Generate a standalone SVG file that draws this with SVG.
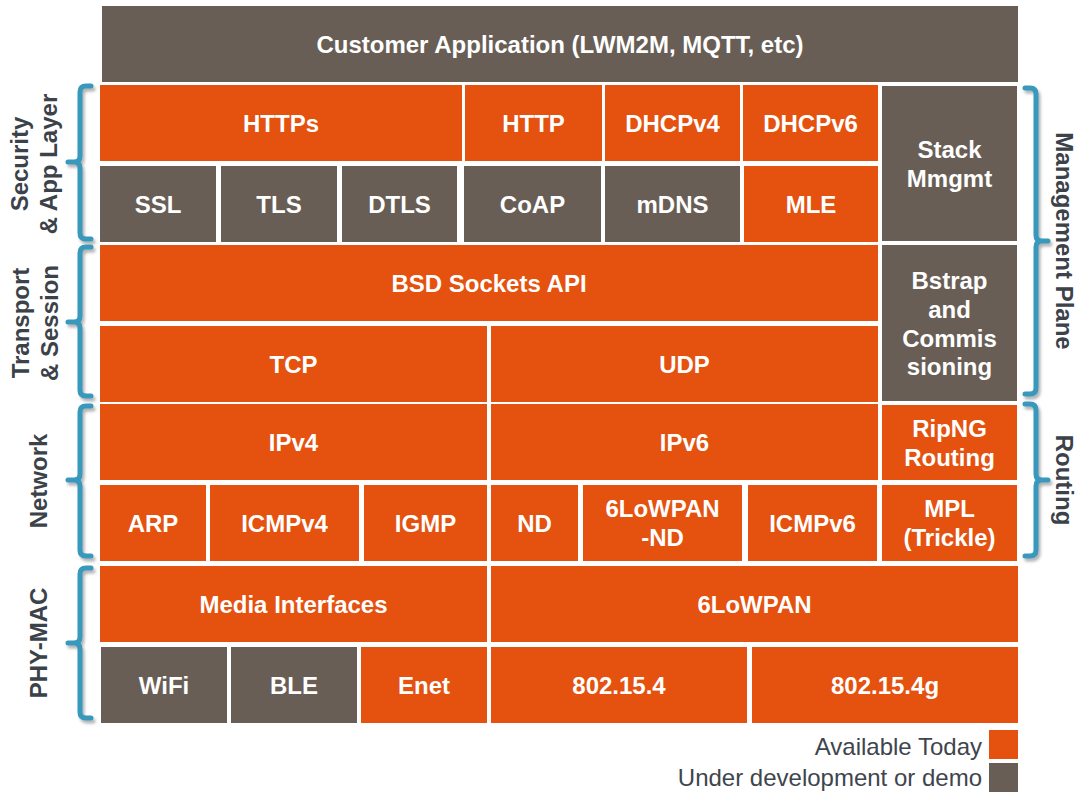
<svg xmlns="http://www.w3.org/2000/svg" width="1078" height="792" viewBox="0 0 1078 792">
<defs>
<style>
.o{fill:#E5510E}
.g{fill:#685E55}
.t{font-family:"Liberation Sans",Arial,sans-serif;font-weight:bold;font-size:24px;fill:#FFFFFF;text-anchor:middle}
.s{font-family:"Liberation Sans",Arial,sans-serif;font-weight:bold;font-size:24px;fill:#3C4249;text-anchor:middle}
.l{font-family:"Liberation Sans",Arial,sans-serif;font-size:24px;fill:#3E454D;text-anchor:end}
.br{fill:none;stroke:#3799BD;stroke-width:5;stroke-linecap:round;stroke-linejoin:round}
</style>
<filter id="sh" x="-50%" y="-10%" width="200%" height="120%">
<feDropShadow dx="2" dy="3" stdDeviation="1.5" flood-color="#555555" flood-opacity="0.45"/>
</filter>
</defs>
<rect width="1078" height="792" fill="#FFFFFF"/>

<g id="customer"><rect class="g" x="102" y="6" width="916" height="76"/><text class="t" x="560" y="53">Customer Application (LWM2M, MQTT, etc)</text></g>

<g id="https"><rect class="o" x="100" y="85" width="362" height="76"/><text class="t" x="281" y="132">HTTPs</text></g>
<g id="http"><rect class="o" x="465" y="85" width="137" height="76"/><text class="t" x="533.5" y="132">HTTP</text></g>
<g id="dhcpv4"><rect class="o" x="605" y="85" width="135" height="76"/><text class="t" x="672.5" y="132">DHCPv4</text></g>
<g id="dhcpv6"><rect class="o" x="743" y="85" width="135" height="76"/><text class="t" x="810.5" y="132">DHCPv6</text></g>
<g id="stack"><rect class="g" x="882" y="86" width="135" height="155"/><text class="t" x="949.5" y="158">Stack</text><text class="t" x="949.5" y="187">Mmgmt</text></g>

<g id="ssl"><rect class="g" x="100" y="166" width="116" height="76"/><text class="t" x="158" y="213">SSL</text></g>
<g id="tls"><rect class="g" x="221" y="166" width="116" height="76"/><text class="t" x="279" y="213">TLS</text></g>
<g id="dtls"><rect class="g" x="342" y="166" width="115" height="76"/><text class="t" x="399.5" y="213">DTLS</text></g>
<g id="coap"><rect class="g" x="464" y="166" width="137" height="76"/><text class="t" x="532.5" y="213">CoAP</text></g>
<g id="mdns"><rect class="g" x="605" y="166" width="135" height="76"/><text class="t" x="672.5" y="213">mDNS</text></g>
<g id="mle"><rect class="o" x="744" y="166" width="134" height="76"/><text class="t" x="811" y="213">MLE</text></g>

<g id="bsd"><rect class="o" x="100" y="245" width="778" height="76"/><text class="t" x="489" y="292">BSD Sockets API</text></g>
<g id="bstrap"><rect class="g" x="882" y="245" width="135" height="156"/><text class="t" x="949.5" y="289">Bstrap</text><text class="t" x="949.5" y="318">and</text><text class="t" x="949.5" y="347">Commis</text><text class="t" x="949.5" y="375">sioning</text></g>

<g id="tcp"><rect class="o" x="100" y="326" width="387" height="76"/><text class="t" x="293.5" y="373">TCP</text></g>
<g id="udp"><rect class="o" x="491" y="326" width="387" height="76"/><text class="t" x="684.5" y="373">UDP</text></g>

<g id="ipv4"><rect class="o" x="100" y="404" width="387" height="76"/><text class="t" x="293.5" y="451">IPv4</text></g>
<g id="ipv6"><rect class="o" x="491" y="404" width="387" height="76"/><text class="t" x="684.5" y="451">IPv6</text></g>
<g id="ripng"><rect class="o" x="882" y="405" width="135" height="75"/><text class="t" x="949.5" y="437">RipNG</text><text class="t" x="949.5" y="466">Routing</text></g>

<g id="arp"><rect class="o" x="100" y="485" width="106" height="76"/><text class="t" x="153" y="532">ARP</text></g>
<g id="icmpv4"><rect class="o" x="210" y="485" width="149" height="76"/><text class="t" x="284.5" y="532">ICMPv4</text></g>
<g id="igmp"><rect class="o" x="364" y="485" width="123" height="76"/><text class="t" x="425.5" y="532">IGMP</text></g>
<g id="nd"><rect class="o" x="491" y="485" width="87" height="76"/><text class="t" x="534.5" y="532">ND</text></g>
<g id="lowpan-nd"><rect class="o" x="583" y="485" width="159" height="76"/><text class="t" x="662.5" y="517">6LoWPAN</text><text class="t" x="662.5" y="546">-ND</text></g>
<g id="icmpv6"><rect class="o" x="748" y="485" width="129" height="76"/><text class="t" x="812.5" y="532">ICMPv6</text></g>
<g id="mpl"><rect class="o" x="882" y="485" width="135" height="76"/><text class="t" x="949.5" y="517">MPL</text><text class="t" x="949.5" y="546">(Trickle)</text></g>

<g id="media"><rect class="o" x="100" y="566" width="387" height="76"/><text class="t" x="293.5" y="613">Media Interfaces</text></g>
<g id="lowpan"><rect class="o" x="491" y="566" width="527" height="76"/><text class="t" x="754.5" y="613">6LoWPAN</text></g>

<g id="wifi"><rect class="g" x="101" y="647" width="126" height="76"/><text class="t" x="164" y="694">WiFi</text></g>
<g id="ble"><rect class="g" x="231" y="647" width="126" height="76"/><text class="t" x="294" y="694">BLE</text></g>
<g id="enet"><rect class="o" x="361" y="647" width="126" height="76"/><text class="t" x="424" y="694">Enet</text></g>
<g id="ieee802154"><rect class="o" x="491" y="647" width="256" height="76"/><text class="t" x="619" y="694">802.15.4</text></g>
<g id="ieee802154g"><rect class="o" x="752" y="647" width="266" height="76"/><text class="t" x="885" y="694">802.15.4g</text></g>

<g id="connectors" filter="url(#sh)">
<path class="br" d="M91,86 H86 Q80,86 80,92 V156 Q80,162 74,162 H68 M74,162 Q80,162 80,168 V233 Q80,239 86,239 H91"/>
<path class="br" d="M91,247 H86 Q80,247 80,253 V316 Q80,322 74,322 H68 M74,322 Q80,322 80,328 V390 Q80,396 86,396 H91"/>
<path class="br" d="M91,406 H86 Q80,406 80,412 V474 Q80,480 74,480 H68 M74,480 Q80,480 80,486 V550 Q80,556 86,556 H91"/>
<path class="br" d="M91,568 H86 Q80,568 80,574 V637 Q80,643 74,643 H68 M74,643 Q80,643 80,649 V712 Q80,718 86,718 H91"/>
<path class="br" d="M1025,88 H1030 Q1036,88 1036,94 V235 Q1036,241 1042,241 H1048 M1042,241 Q1036,241 1036,247 V388 Q1036,394 1030,394 H1025"/>
<path class="br" d="M1025,404 H1030 Q1036,404 1036,410 V474 Q1036,480 1042,480 H1048 M1042,480 Q1036,480 1036,486 V550 Q1036,556 1030,556 H1025"/>
</g>

<g id="side-labels">
<text class="s" transform="translate(28,164) rotate(-90)">Security</text>
<text class="s" transform="translate(57,164) rotate(-90)">&amp; App Layer</text>
<text class="s" transform="translate(29,323) rotate(-90)">Transport</text>
<text class="s" transform="translate(58,323) rotate(-90)">&amp; Session</text>
<text class="s" transform="translate(47,481) rotate(-90)">Network</text>
<text class="s" transform="translate(47,643) rotate(-90)">PHY-MAC</text>
<text class="s" transform="translate(1056,241) rotate(90)">Management Plane</text>
<text class="s" transform="translate(1056,480) rotate(90)">Routing</text>
</g>

<g id="legend">
<text class="l" x="982" y="755">Available Today</text>
<rect class="o" x="989" y="730" width="29" height="29"/>
<text class="l" x="982" y="786">Under development or demo</text>
<rect class="g" x="989" y="763" width="29" height="29"/>
</g>
</svg>
